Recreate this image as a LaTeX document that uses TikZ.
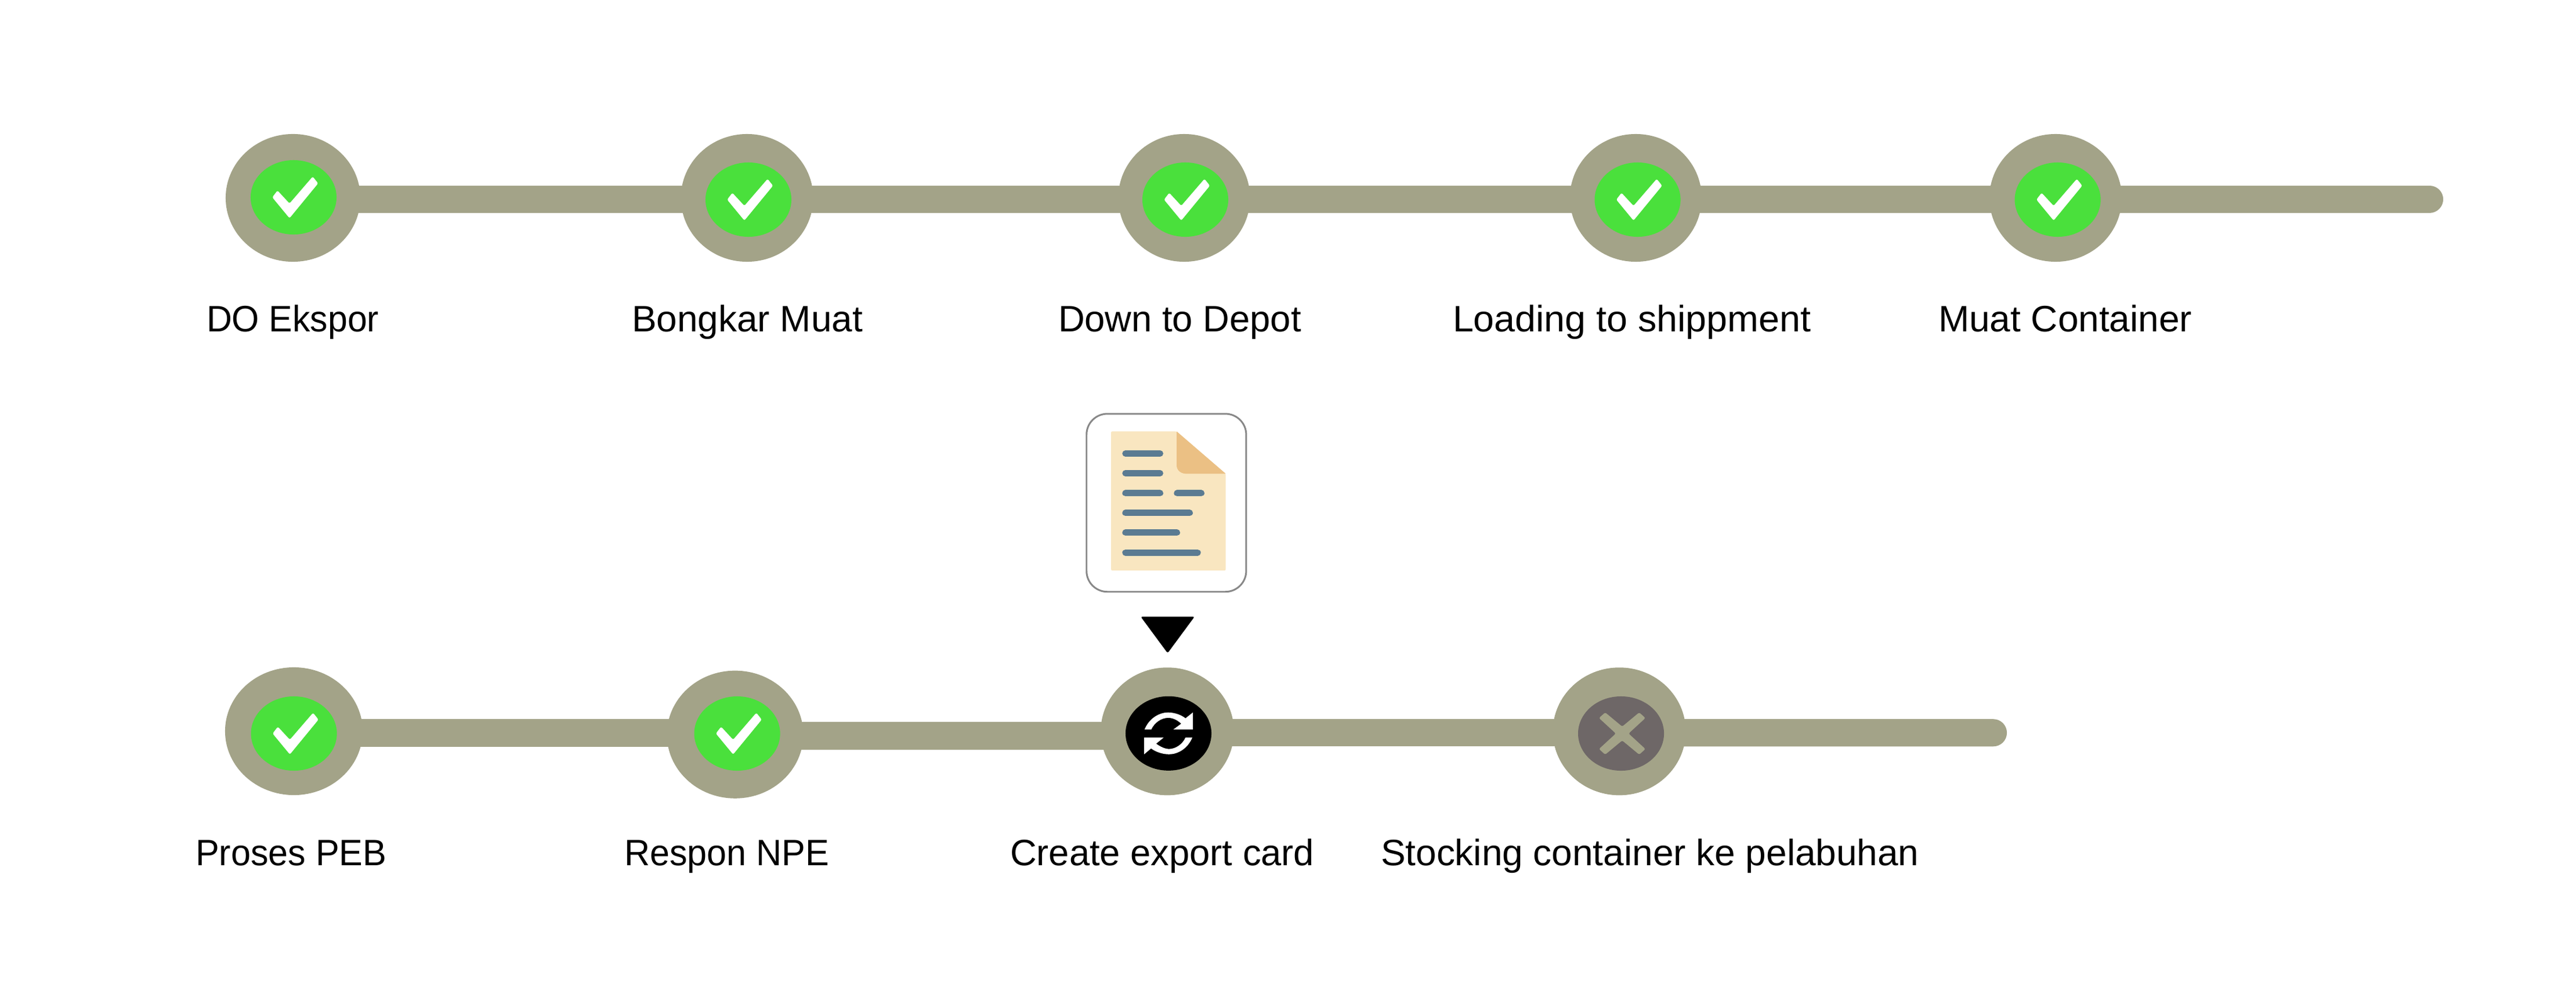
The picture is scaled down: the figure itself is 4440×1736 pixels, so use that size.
\documentclass[tikz,border=0pt]{standalone}
\usepackage{fontspec}
\usepackage{graphicx}
\setmainfont{Liberation Sans}
\usetikzlibrary{shapes.geometric,backgrounds,calc}
\definecolor{trackc}{RGB}{163,163,136}
\definecolor{okc}{RGB}{74,224,60}
\definecolor{todoc}{RGB}{110,103,103}
\definecolor{paperc}{RGB}{249,230,192}
\definecolor{foldc}{RGB}{235,192,132}
\definecolor{inkc}{RGB}{91,123,146}
\definecolor{boxc}{RGB}{136,136,136}
\tikzset{
  outerdot/.style={ellipse,fill=trackc,inner sep=0pt,outer sep=0pt,minimum width=2.3cm,minimum height=2.2cm},
  innerdot/.style={ellipse,inner sep=0pt,outer sep=0pt,minimum width=1.48cm,minimum height=1.28cm},
  track/.style={draw=trackc,line width=13.4pt,line cap=butt},
  trackend/.style={draw=trackc,line width=13.4pt,line cap=round},
  steplabel/.style={anchor=base west,inner sep=0pt,outer sep=0pt,font=\fontsize{18}{21}\selectfont,text=black},
  inkline/.style={draw=inkc,line width=3.13pt,line cap=round},
  softcorner/.style={rounded corners=0.75pt}
}
\newcommand{\okmark}[1]{\fill[white,softcorner,shift={(#1.center)}] (-36.7,0) -- (-27.7,-11.7) -- (-7,10.7) -- (33,-35.7) -- (42.3,-24) -- (-7,36) -- cycle;}
\newcommand{\crossmark}[1]{\fill[trackc,softcorner,shift={(#1.center)}] (-27.3,-36.3) -- (-38,-26.7) -- (-9,0) -- (-38,26.7) -- (-27.3,36.3) -- (2,12) -- (31.3,36.3) -- (42,26.7) -- (13,0) -- (42,-26.7) -- (31.3,-36.3) -- (2,-12) -- cycle;}
\newcommand{\syncmark}[1]{\fill[white,shift={(#1.center)}]
  (-41.3,-6.7) .. controls (-33,-27) and (-15,-36.1) .. (-0.7,-36.1) .. controls (10,-36.1) and (22,-32) .. (29.3,-26)
  -- (42,-36.1) -- (42,-6.7) -- (8.3,-6.7) -- (22,-16.8)
  .. controls (15,-23) and (8,-26.8) .. (-0.7,-26.8) .. controls (-12,-26.8) and (-24,-19) .. (-29.7,-6.7) -- cycle
  (41,7.1) .. controls (33,27) and (15,36) .. (1,36) .. controls (-10,36) and (-22,32) .. (-30,25.9)
  -- (-42,36) -- (-42,7.1) -- (-8.3,7.1) -- (-21.3,17.7)
  .. controls (-14,23) and (-6,26.8) .. (1,26.8) .. controls (12,26.8) and (24,19) .. (29.3,7.1) -- cycle;}
\begin{document}
\begin{tikzpicture}[x=0.01cm,y=-0.01cm]
\useasboundingbox (0,0) rectangle (4440,1736);
% top row
\node[outerdot,minimum width=2.32cm] (a1) at (505,341) {};
\node[outerdot,minimum width=2.28cm] (a2) at (1287.6,341) {};
\node[outerdot,minimum width=2.27cm] (a3) at (2041,341) {};
\node[outerdot,minimum width=2.27cm] (a4) at (2819.4,341) {};
\node[outerdot,minimum width=2.28cm] (a5) at (3543,341) {};
\node[innerdot,fill=okc] (ia1) at (506,340) {};
\node[innerdot,fill=okc] (ia2) at (1290,344) {};
\node[innerdot,fill=okc] (ia3) at (2043,344) {};
\node[innerdot,fill=okc] (ia4) at (2822.5,344) {};
\node[innerdot,fill=okc] (ia5) at (3546.6,344) {};
\coordinate (endA) at (4187.5,343.3);
% bottom row
\node[outerdot,minimum width=2.37cm] (b1) at (506.5,1260) {};
\node[outerdot,minimum width=2.35cm] (b2) at (1267,1265.7) {};
\node[outerdot,minimum width=2.295cm] (b3) at (2012,1260.3) {};
\node[outerdot,minimum width=2.29cm] (b4) at (2791,1260.3) {};
\node[innerdot,fill=okc] (ib1) at (506.6,1264) {};
\node[innerdot,fill=okc] (ib2) at (1270.6,1264) {};
\node[innerdot,fill=black] (ib3) at (2014,1263.8) {};
\node[innerdot,fill=todoc] (ib4) at (2794,1264) {};
\coordinate (endB) at (3435.5,1262.7);
% connectors
\begin{scope}[on background layer]
\draw[track] ($(a1.center)+(0,2.3)$) -- ($(a2.center)+(0,2.3)$);
\draw[track] ($(a2.center)+(0,2.3)$) -- ($(a3.center)+(0,2.3)$);
\draw[track] ($(a3.center)+(0,2.3)$) -- ($(a4.center)+(0,2.3)$);
\draw[track] ($(a4.center)+(0,2.3)$) -- ($(a5.center)+(0,2.3)$);
\draw[trackend] ($(a5.center)+(0,2.3)$) -- (endA);
\draw[track] ($(b1.center)+(0,3)$) -- ($(b2.center)+(0,-2.7)$);
\draw[track] ($(b2.center)+(0,2.3)$) -- ($(b3.center)+(0,7.7)$);
\draw[track] ($(b3.center)+(0,2.4)$) -- ($(b4.center)+(0,2.4)$);
\draw[trackend] ($(b4.center)+(0,2.4)$) -- (endB);
\end{scope}
% marks
\foreach \n in {ia1,ia2,ia3,ia4,ia5,ib1,ib2}{\okmark{\n}}
\syncmark{ib3}
\crossmark{ib4}
% labels
\node[steplabel] (la1) at (356,571.7) {\scalebox{0.96}[1]{DO Ekspor}};
\node[steplabel] (la2) at (1089,571.7) {\scalebox{1.01}[1]{Bongkar Muat}};
\node[steplabel] (la3) at (1824,571.7) {Down to Depot};
\node[steplabel] (la4) at (2504,571.7) {\scalebox{1.02}[1]{Loading to shippment}};
\node[steplabel] (la5) at (3341,571.7) {\scalebox{1.01}[1]{Muat Container}};
\node[steplabel] (lb1) at (337,1491.7) {\scalebox{0.965}[1]{Proses PEB}};
\node[steplabel] (lb2) at (1076,1491.7) {\scalebox{0.965}[1]{Respon NPE}};
\node[steplabel] (lb3) at (1741,1491.7) {Create export card};
\node[steplabel] (lb4) at (2380,1491.7) {\scalebox{1.01}[1]{Stocking container ke pelabuhan}};
% document card
\node[draw=boxc,line width=0.85pt,fill=white,rounded corners=10.2pt,inner sep=0pt,outer sep=0pt,minimum width=2.75cm,minimum height=3.065cm] (card) at (2010.3,866.4) {};
\fill[paperc,rounded corners=0.6pt] (1915,743.4) -- (2028,743.4) -- (2112.7,816.4) -- (2112.7,983) -- (1915,983) -- cycle;
\fill[foldc] (2028,743.4) -- (2112.7,816.4) -- (2045,816.4) .. controls (2035,816.4) and (2028,810) .. (2028,801.7) -- cycle;
\draw[inkline] (1939.8,781.5) -- (1999.5,781.5);
\draw[inkline] (1939.8,815.4) -- (1999.5,815.4);
\draw[inkline] (1939.8,849.9) -- (1999.5,849.9);
\draw[inkline] (2028.8,849.9) -- (2070.5,849.9);
\draw[inkline] (1939.8,883.9) -- (2050.5,883.9);
\draw[inkline] (1939.8,917.8) -- (2028.5,917.8);
\draw[inkline] (1939.8,952.3) -- (2064.2,952.3);
% pointer
\fill[black,rounded corners=0.9pt] (1966,1062.5) -- (2059,1062.5) -- (2012.5,1125.5) -- cycle;
\end{tikzpicture}
\end{document}
